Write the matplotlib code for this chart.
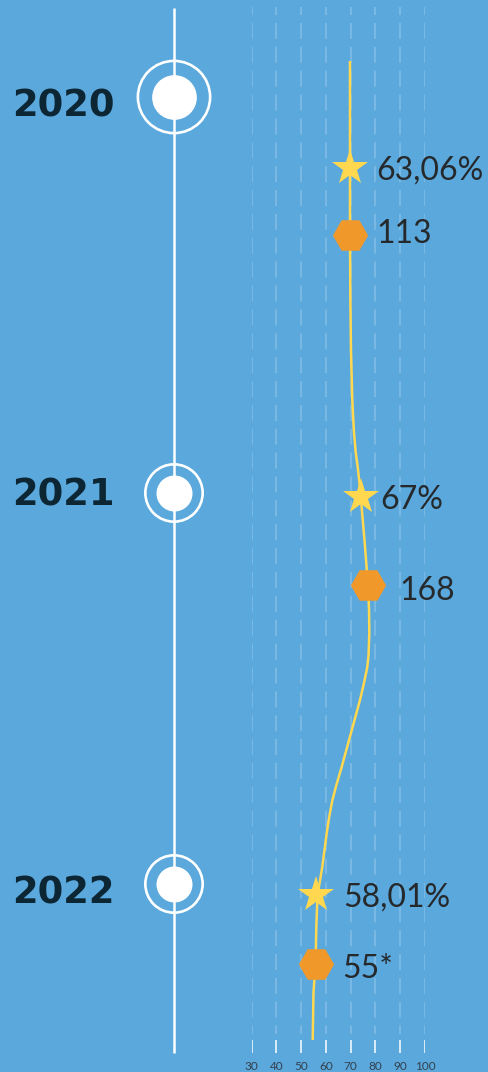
#!/usr/bin/env python3

import matplotlib
matplotlib.use('Agg')
import matplotlib.pyplot as plt

plt.rcParams['lines.scale_dashes'] = False

BG = '#5aa8dc'
YELLOW = '#ffd84f'
ORANGE = '#f0992a'
NAVY = '#0d2634'
DARK = '#26292c'

# timeline (vertical position on the page, pixels from top)
years = ['2020', '2021', '2022']
year_pos = [97, 493, 884]
year_baseline = [116.5, 505, 903]
ring_size = [2704, 1704, 1704]
dot_size = [1036, 672, 672]

# chart values (x axis 30..100)
ticks = [30, 40, 50, 60, 70, 80, 90, 100]
star_vals = [69.7, 74.1, 55.85]
star_pos = [168, 497, 895]
star_labels = ['63,06%', '67%', '58,01%']
star_label_base = [179.3, 509.3, 907]
star_label_dx = [26, 19, 28]
hex_vals = [69.7, 77.0, 55.8]
hex_pos = [235, 585, 963.5]
hex_labels = ['113', '168', '55*']
hex_label_base = [243.3, 600, 978]
hex_label_dx = [26, 31, 27]

curve_pos = [61, 168, 235, 300, 350, 400, 433, 452, 467, 482, 497, 540, 585,
             610, 633, 655, 667, 683, 700, 733, 767, 785, 800, 817, 833, 867,
             895, 927, 963, 993, 1040]
curve_vals = [69.7, 69.7, 69.7, 69.85, 70.1, 70.63, 71.32, 72.0, 72.81, 73.5,
              74.06, 75.56, 76.97, 77.4, 77.5, 77.2, 76.69, 75.36, 73.74,
              70.1, 66.35, 64.2, 62.6, 61.3, 60.3, 58.51, 56.6, 56.1, 55.81,
              54.95, 54.64]

W, H = 489, 1072
fig = plt.figure(figsize=(W / 100, H / 100), dpi=100, facecolor=BG)

# left part: timeline in page pixels
tl = fig.add_axes([0, 0, 1, 1])
tl.set_xlim(0, W)
tl.set_ylim(H, 0)
tl.axis('off')
tl_x = 174
tl.vlines(tl_x, 8, 1053, color='white', lw=1.8)
for i in range(len(years)):
    tl.scatter(tl_x, year_pos[i], s=ring_size[i], facecolor='none',
               edgecolor='white', linewidths=1.9, zorder=3)
    tl.scatter(tl_x, year_pos[i], s=dot_size[i], color='white',
               linewidths=0, zorder=4)
    tl.text(12, year_baseline[i], years[i], fontsize=26.6, fontweight='bold',
            color=NAVY, ha='left', va='baseline')

# right part: value chart
x0, x1 = 251.7, 425.0
ax = fig.add_axes([x0 / W, 0, (x1 - x0) / W, 1])
ax.set_xlim(30, 100)
ax.set_ylim(H, 0)
ax.patch.set_alpha(0)
ax.axis('off')

ax.vlines(ticks, 7, 1034, color='white', alpha=0.22, lw=1.2,
          linestyles=[(5.76, (11.52, 5.67))])
ax.vlines(ticks, 1040, 1053, color='white', alpha=0.9, lw=1.2)
for t in ticks:
    ax.text(t, 1066, str(t), fontsize=8.5, color='#34404c', ha='center',
            va='center', family='Lato')

ax.plot(curve_vals, curve_pos, color=YELLOW, lw=1.8, zorder=2,
        solid_capstyle='butt', solid_joinstyle='round')
ax.plot(star_vals, star_pos, ls='none', marker='*', ms=27.4, color=YELLOW,
        mew=0, zorder=3)
ax.plot(hex_vals, hex_pos, ls='none', marker='H', ms=25.4, color=ORANGE,
        mew=0, zorder=3)

for v, lab, b, dx in zip(star_vals, star_labels, star_label_base, star_label_dx):
    ax.annotate(lab, (v, b), xytext=(dx, 0), textcoords='offset pixels',
                fontsize=23, color=DARK, family='Lato', fontweight='normal',
                ha='left', va='baseline', annotation_clip=False)
for v, lab, b, dx in zip(hex_vals, hex_labels, hex_label_base, hex_label_dx):
    ax.annotate(lab, (v, b), xytext=(dx, 0), textcoords='offset pixels',
                fontsize=23, color=DARK, family='Lato', fontweight='normal',
                ha='left', va='baseline', annotation_clip=False)

fig.savefig('out.png', dpi=100, facecolor=BG)
